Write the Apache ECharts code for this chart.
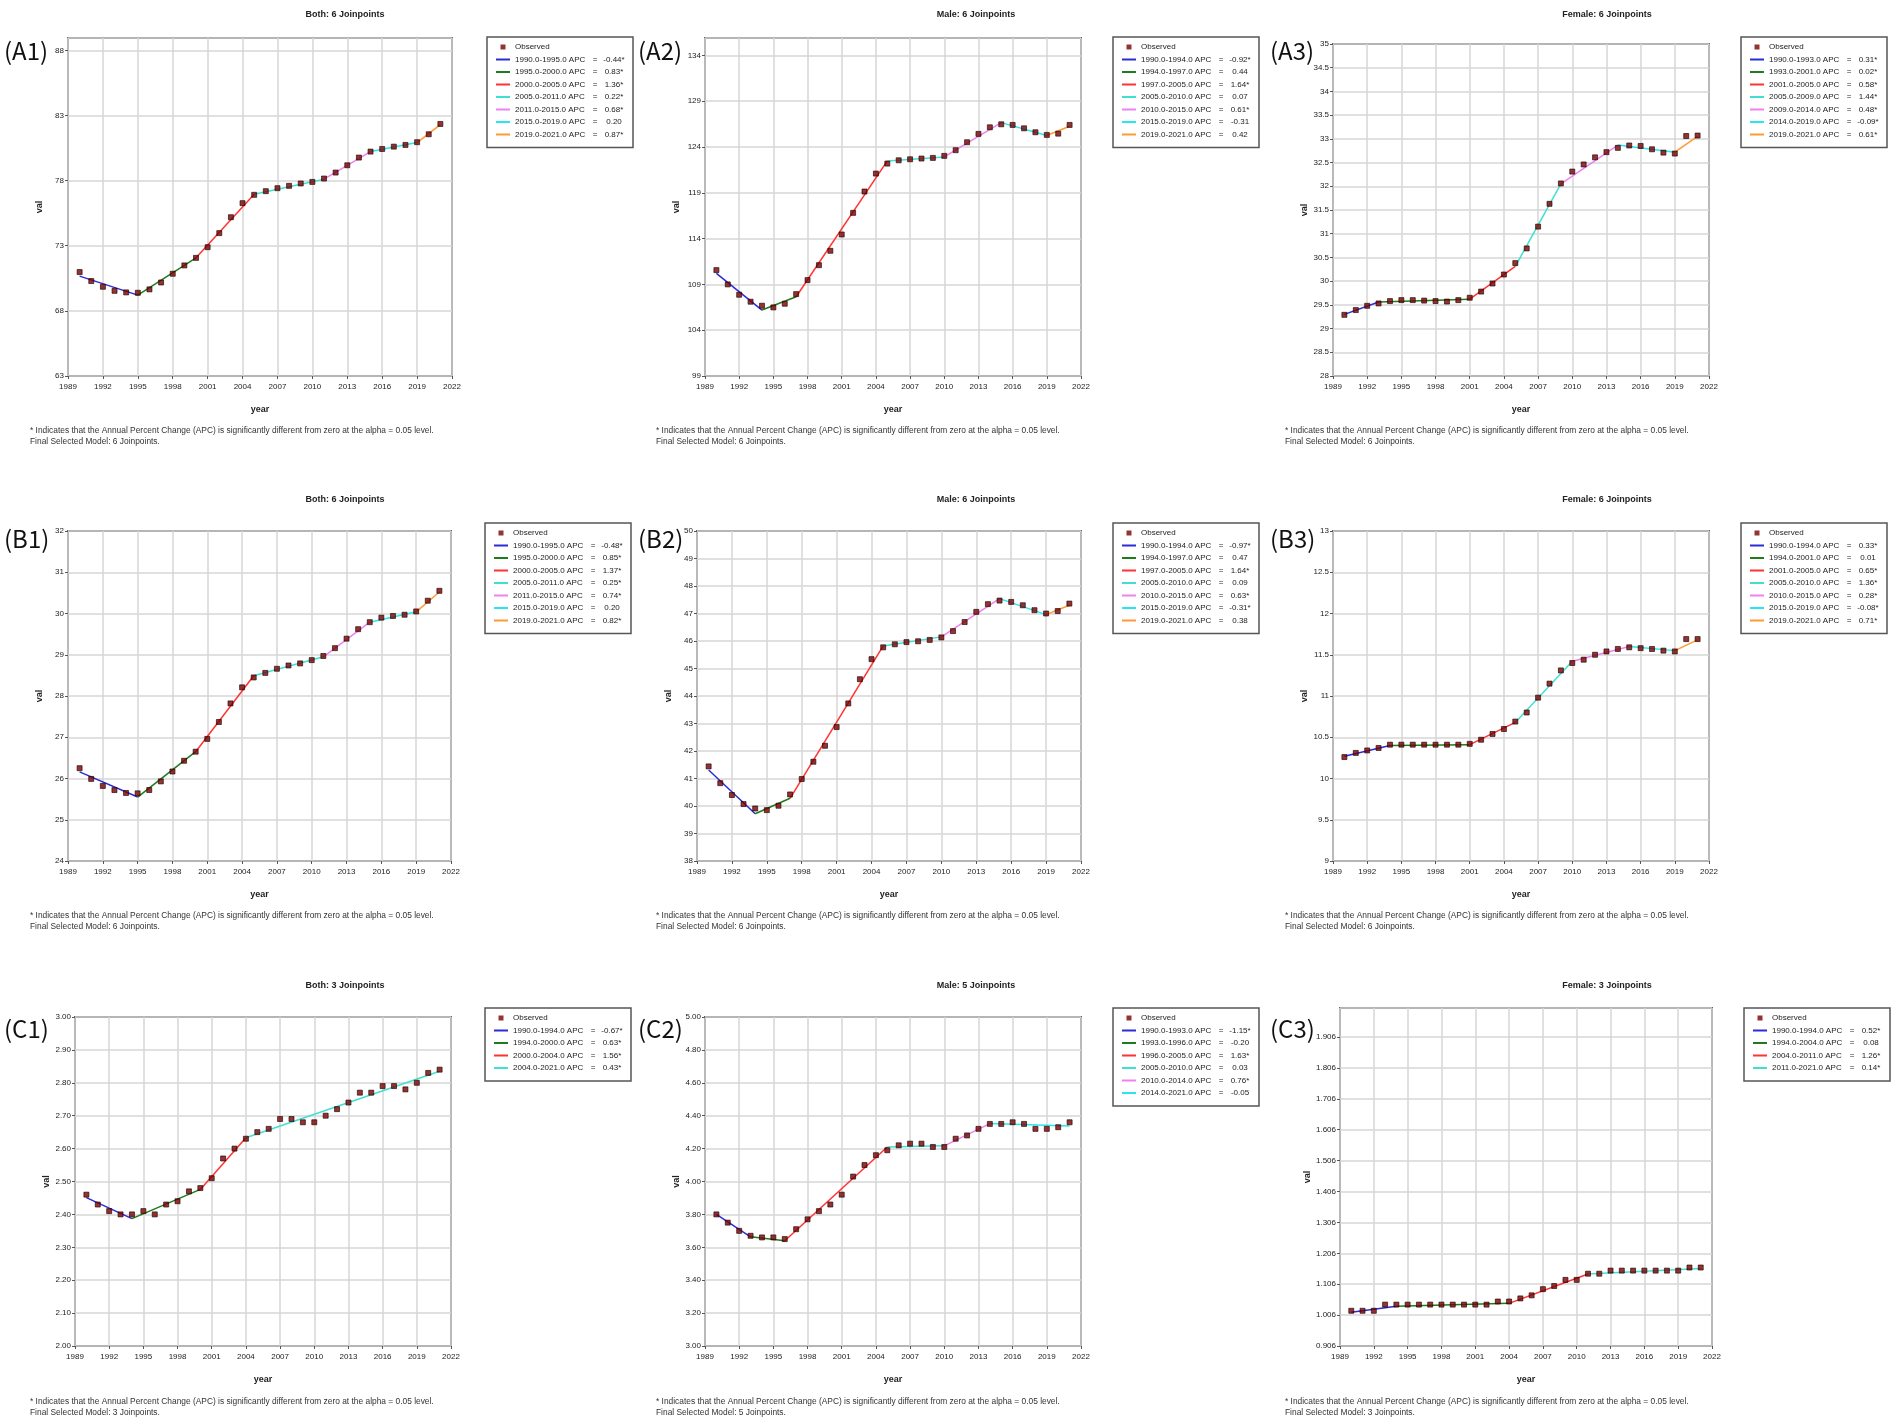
<!DOCTYPE html>
<html>
<head>
<meta charset="utf-8">
<script src="https://cdn.jsdelivr.net/npm/echarts@6/dist/echarts.min.js"></script>
<style>
html, body { margin: 0; padding: 0; background: #fff; }
#main { width: 1902px; height: 1427px; }
</style>
</head>
<body>
<div id="main"></div>
<script>
// observation years
var years = [1990, 1991, 1992, 1993, 1994, 1995, 1996, 1997, 1998, 1999,
             2000, 2001, 2002, 2003, 2004, 2005, 2006, 2007, 2008, 2009,
             2010, 2011, 2012, 2013, 2014, 2015, 2016, 2017, 2018, 2019,
             2020, 2021];

// row A
var obsA1 = [70.98, 70.29, 69.85, 69.54, 69.42, 69.39, 69.65, 70.18, 70.85, 71.49,
             72.07, 72.89, 73.97, 75.19, 76.27, 76.91, 77.19, 77.42, 77.60, 77.78,
             77.90, 78.16, 78.62, 79.18, 79.77, 80.23, 80.43, 80.61, 80.74, 80.95,
             81.56, 82.35];
var joinA1 = [1990, 1995, 2000, 2005, 2011, 2015, 2019, 2021];
var fitA1 = [70.67, 69.21, 72.07, 76.96, 78.11, 80.23, 80.92, 82.30];
var apcA1 = ['-0.44*', '0.83*', '1.36*', '0.22*', '0.68*', '0.20', '0.87*'];

var obsA2 = [110.56, 109.00, 107.87, 107.11, 106.67, 106.49, 106.89, 107.94, 109.47, 111.10,
             112.67, 114.45, 116.81, 119.14, 121.10, 122.19, 122.55, 122.66, 122.74, 122.81,
             123.03, 123.65, 124.52, 125.43, 126.15, 126.48, 126.41, 126.04, 125.61, 125.32,
             125.46, 126.41];
var joinA2 = [1990, 1994, 1997, 2005, 2010, 2015, 2019, 2021];
var fitA2 = [110.20, 106.20, 107.65, 122.48, 122.92, 126.66, 125.25, 126.26];
var apcA2 = ['-0.92*', '0.44', '1.64*', '0.07', '0.61*', '-0.31', '0.42'];

var obsA3 = [29.29, 29.39, 29.48, 29.53, 29.58, 29.60, 29.60, 29.59, 29.58, 29.57,
             29.60, 29.65, 29.78, 29.95, 30.14, 30.38, 30.69, 31.15, 31.63, 32.06,
             32.31, 32.46, 32.61, 32.72, 32.81, 32.86, 32.85, 32.78, 32.71, 32.69,
             33.06, 33.07];
var joinA3 = [1990, 1993, 2001, 2005, 2009, 2014, 2019, 2021];
var fitA3 = [29.30, 29.56, 29.62, 30.31, 32.05, 32.87, 32.72, 33.05];
var apcA3 = ['0.31*', '0.02*', '0.58*', '1.44*', '0.48*', '-0.09*', '0.61*'];

// row B
var obsB1 = [26.25, 25.99, 25.82, 25.72, 25.65, 25.64, 25.72, 25.93, 26.17, 26.43,
             26.65, 26.96, 27.37, 27.82, 28.21, 28.45, 28.56, 28.66, 28.74, 28.79,
             28.87, 28.97, 29.16, 29.39, 29.62, 29.79, 29.90, 29.94, 29.97, 30.05,
             30.31, 30.55];
var joinB1 = [1990, 1995, 2000, 2005, 2011, 2015, 2019, 2021];
var fitB1 = [26.16, 25.55, 26.65, 28.49, 28.95, 29.79, 30.04, 30.52];
var apcB1 = ['-0.48*', '0.85*', '1.37*', '0.25*', '0.74*', '0.20', '0.82*'];

var obsB2 = [41.44, 40.83, 40.40, 40.07, 39.91, 39.85, 40.01, 40.42, 40.98, 41.61,
             42.19, 42.87, 43.73, 44.61, 45.34, 45.77, 45.88, 45.96, 45.99, 46.04,
             46.13, 46.36, 46.69, 47.06, 47.34, 47.47, 47.42, 47.30, 47.12, 47.00,
             47.09, 47.36];
var joinB2 = [1990, 1994, 1997, 2005, 2010, 2015, 2019, 2021];
var fitB2 = [41.31, 39.72, 40.28, 45.82, 46.15, 47.54, 46.96, 47.30];
var apcB2 = ['-0.97*', '0.47', '1.64*', '0.09', '0.63*', '-0.31*', '0.38'];

var obsB3 = [10.26, 10.31, 10.34, 10.37, 10.41, 10.41, 10.41, 10.41, 10.41, 10.41,
             10.41, 10.42, 10.47, 10.54, 10.60, 10.69, 10.80, 10.98, 11.15, 11.31,
             11.40, 11.44, 11.50, 11.54, 11.57, 11.59, 11.58, 11.57, 11.55, 11.54,
             11.69, 11.69];
var joinB3 = [1990, 1994, 2001, 2005, 2010, 2015, 2019, 2021];
var fitB3 = [10.27, 10.40, 10.41, 10.68, 11.42, 11.60, 11.55, 11.68];
var apcB3 = ['0.33*', '0.01', '0.65*', '1.36*', '0.28*', '-0.08*', '0.71*'];

// row C
var obsC1 = [2.46, 2.43, 2.41, 2.40, 2.40, 2.41, 2.40, 2.43, 2.44, 2.47,
             2.48, 2.51, 2.57, 2.60, 2.63, 2.65, 2.66, 2.69, 2.69, 2.68,
             2.68, 2.70, 2.72, 2.74, 2.77, 2.77, 2.79, 2.79, 2.78, 2.80,
             2.83, 2.84];
var joinC1 = [1990, 1994, 2000, 2004, 2021];
var fitC1 = [2.451, 2.387, 2.476, 2.633, 2.835];
var apcC1 = ['-0.67*', '0.63*', '1.56*', '0.43*'];

var obsC2 = [3.80, 3.75, 3.70, 3.67, 3.66, 3.66, 3.65, 3.71, 3.77, 3.82,
             3.86, 3.92, 4.03, 4.10, 4.16, 4.19, 4.22, 4.23, 4.23, 4.21,
             4.21, 4.26, 4.28, 4.32, 4.35, 4.35, 4.36, 4.35, 4.32, 4.32,
             4.33, 4.36];
var joinC2 = [1990, 1993, 1996, 2005, 2010, 2014, 2021];
var fitC2 = [3.80, 3.664, 3.64, 4.21, 4.217, 4.352, 4.337];
var apcC2 = ['-1.15*', '-0.20', '1.63*', '0.03', '0.76*', '-0.05'];

var obsC3 = [1.02, 1.02, 1.02, 1.04, 1.04, 1.04, 1.04, 1.04, 1.04, 1.04,
             1.04, 1.04, 1.04, 1.05, 1.05, 1.06, 1.07, 1.09, 1.10, 1.12,
             1.12, 1.14, 1.14, 1.15, 1.15, 1.15, 1.15, 1.15, 1.15, 1.15,
             1.16, 1.16];
var joinC3 = [1990, 1994, 2004, 2011, 2021];
var fitC3 = [1.015, 1.035, 1.044, 1.139, 1.157];
var apcC3 = ['0.52*', '0.08', '1.26*', '0.14*'];

var segColors = ['#2b2bd8', '#1e7b1e', '#ff3333', '#40e0d0', '#ee82ee', '#27e6ee', '#ff9a33'];
var FONT = 'Liberation Sans, Arial, sans-serif';
var NOTE1 = '* Indicates that the Annual Percent Change (APC) is significantly different from zero at the alpha = 0.05 level.';
// legend icons: box forced to 14x6 so the glyph keeps its size
var ICON_OBS = 'path://M0,0M14,6M4.5,0.5H9.5V5.5H4.5Z';
var ICON_SEG = 'path://M0,0M14,6M0,2H14V4H0Z';

var rows = [
    { headY: 15, tagY: 51, lgY: 37, bottom: 376, noteY: 431 },
    { headY: 500, tagY: 539, lgY: 523, bottom: 861, noteY: 916 },
    { headY: 986, tagY: 1029, lgY: 1008, bottom: 1346, noteY: 1402 }
];
var cols = [
    { headX: 345, tagX: 4, noteX: 30 },
    { headX: 976, tagX: 638, noteX: 656 },
    { headX: 1607, tagX: 1270, noteX: 1285 }
];

var panels = [
    { r: 0, c: 0, tag: '(A1)', head: 'Both: 6 Joinpoints', model: '6 Joinpoints', obs: obsA1, join: joinA1, fit: fitA1, apc: apcA1,
      yMin: 63, yMax: 88.95, yStep: 5, dec: 0, hideMax: true, left: 68, right: 452, top: 38, lgX: 487 },
    { r: 0, c: 1, tag: '(A2)', head: 'Male: 6 Joinpoints', model: '6 Joinpoints', obs: obsA2, join: joinA2, fit: fitA2, apc: apcA2,
      yMin: 99, yMax: 135.9, yStep: 5, dec: 0, hideMax: true, left: 705, right: 1081, top: 38, lgX: 1113 },
    { r: 0, c: 2, tag: '(A3)', head: 'Female: 6 Joinpoints', model: '6 Joinpoints', obs: obsA3, join: joinA3, fit: fitA3, apc: apcA3,
      yMin: 28, yMax: 35, yStep: 0.5, dec: -1, hideMax: false, left: 1333, right: 1709, top: 44, lgX: 1741 },
    { r: 1, c: 0, tag: '(B1)', head: 'Both: 6 Joinpoints', model: '6 Joinpoints', obs: obsB1, join: joinB1, fit: fitB1, apc: apcB1,
      yMin: 24, yMax: 32, yStep: 1, dec: 0, hideMax: false, left: 68, right: 451, top: 531, lgX: 485 },
    { r: 1, c: 1, tag: '(B2)', head: 'Male: 6 Joinpoints', model: '6 Joinpoints', obs: obsB2, join: joinB2, fit: fitB2, apc: apcB2,
      yMin: 38, yMax: 50, yStep: 1, dec: 0, hideMax: false, left: 697, right: 1081, top: 531, lgX: 1113 },
    { r: 1, c: 2, tag: '(B3)', head: 'Female: 6 Joinpoints', model: '6 Joinpoints', obs: obsB3, join: joinB3, fit: fitB3, apc: apcB3,
      yMin: 9, yMax: 13, yStep: 0.5, dec: -1, hideMax: false, left: 1333, right: 1709, top: 531, lgX: 1741 },
    { r: 2, c: 0, tag: '(C1)', head: 'Both: 3 Joinpoints', model: '3 Joinpoints', obs: obsC1, join: joinC1, fit: fitC1, apc: apcC1,
      yMin: 2, yMax: 3, yStep: 0.1, dec: 2, hideMax: false, left: 75, right: 451, top: 1017, lgX: 485 },
    { r: 2, c: 1, tag: '(C2)', head: 'Male: 5 Joinpoints', model: '5 Joinpoints', obs: obsC2, join: joinC2, fit: fitC2, apc: apcC2,
      yMin: 3, yMax: 5, yStep: 0.2, dec: 2, hideMax: false, left: 705, right: 1081, top: 1017, lgX: 1113 },
    { r: 2, c: 2, tag: '(C3)', head: 'Female: 3 Joinpoints', model: '3 Joinpoints', obs: obsC3, join: joinC3, fit: fitC3, apc: apcC3,
      yMin: 0.906, yMax: 2.0, yStep: 0.1, dec: 3, hideMax: true, left: 1340, right: 1712, top: 1008, lgX: 1744 }
];

var grids = [], xAxes = [], yAxes = [], series = [], legends = [], graphics = [];

panels.forEach(function (p, i) {
    var row = rows[p.r], col = cols[p.c];
    grids.push({
        left: p.left, top: p.top, width: p.right - p.left, height: row.bottom - p.top,
        show: true, borderColor: '#555', borderWidth: 1.8, backgroundColor: '#fff',
        containLabel: false, outerBoundsMode: 'none'
    });
    xAxes.push({
        gridIndex: i, type: 'value', min: 1989, max: 2022, interval: 3,
        name: 'year', nameLocation: 'middle', nameGap: 29,
        nameTextStyle: { fontFamily: FONT, fontSize: 9, fontWeight: 'bold', color: '#222' },
        axisLine: { show: false },
        axisTick: { show: true, length: 3, lineStyle: { color: '#555' } },
        axisLabel: { fontFamily: FONT, fontSize: 8, color: '#222', margin: 7,
                     formatter: function (v) { return String(v); } },
        splitLine: { show: true, lineStyle: { color: '#d6d6d6', width: 1.5 } }
    });
    yAxes.push({
        gridIndex: i, type: 'value', min: p.yMin, max: p.yMax, interval: p.yStep,
        name: 'val', nameLocation: 'middle', nameGap: 24, nameRotate: 90,
        nameTextStyle: { fontFamily: FONT, fontSize: 9, fontWeight: 'bold', color: '#222' },
        axisLine: { show: false },
        axisTick: { show: true, length: 3, lineStyle: { color: '#555' } },
        axisLabel: {
            fontFamily: FONT, fontSize: 8, color: '#222', margin: 4, showMaxLabel: !p.hideMax,
            formatter: (function (dec) {
                return function (v) { return dec < 0 ? String(+v.toFixed(2)) : v.toFixed(dec); };
            })(p.dec)
        },
        splitLine: { show: true, lineStyle: { color: '#d6d6d6', width: 1.5 } }
    });

    var names = [{ name: 'Observed', icon: ICON_OBS }];
    for (var s = 0; s < p.apc.length; s++) {
        var nm = p.join[s].toFixed(1) + '-' + p.join[s + 1].toFixed(1) + ' APC = ' + p.apc[s];
        names.push({ name: nm, icon: ICON_SEG });
        series.push({
            type: 'line', name: nm, xAxisIndex: i, yAxisIndex: i,
            data: [[p.join[s], p.fit[s]], [p.join[s + 1], p.fit[s + 1]]],
            symbol: 'none', z: 2, silent: true,
            itemStyle: { color: segColors[s] },
            lineStyle: { color: segColors[s], width: 1.5 }
        });
    }
    series.push({
        type: 'scatter', name: 'Observed', xAxisIndex: i, yAxisIndex: i,
        data: years.map(function (y, k) { return [y, p.obs[k]]; }),
        symbol: 'rect', symbolSize: 5, z: 3, silent: true,
        itemStyle: { color: '#7a0000', borderColor: '#1a0000', borderWidth: 0.8 }
    });

    legends.push({
        data: names, orient: 'vertical', left: p.lgX, top: row.lgY,
        itemWidth: 14, itemHeight: 6, itemGap: 2.5,
        padding: [5, 6, 8, 9], borderColor: '#555', borderWidth: 1.5, backgroundColor: '#fff',
        selectedMode: false,
        itemStyle: { borderWidth: 0 },
        textStyle: {
            fontFamily: FONT, fontSize: 8, color: '#222', lineHeight: 10,
            rich: {
                o: { fontFamily: FONT, fontSize: 8, color: '#222' },
                a: { fontFamily: FONT, fontSize: 8, color: '#222', width: 74 },
                b: { fontFamily: FONT, fontSize: 8, color: '#222', width: 12, align: 'center' },
                c: { fontFamily: FONT, fontSize: 8, color: '#222', width: 26 }
            }
        },
        formatter: function (name) {
            var parts = name.split(' APC = ');
            if (parts.length < 2) return '{o|' + name + '}';
            return '{a|' + parts[0] + ' APC}{b|=}{c|' + parts[1] + '}';
        }
    });

    graphics.push({
        type: 'text', x: col.headX, y: row.headY, silent: true,
        style: { text: p.head, fontFamily: FONT, fontSize: 9, fontWeight: 'bold', fill: '#222', align: 'center', verticalAlign: 'middle' }
    });
    graphics.push({
        type: 'text', x: col.tagX, y: row.tagY, silent: true,
        style: { text: p.tag, fontFamily: 'Noto Sans CJK JP', fontSize: 24, fill: '#111', align: 'left', verticalAlign: 'middle' }
    });
    graphics.push({
        type: 'text', x: col.noteX, y: row.noteY, silent: true,
        style: { text: NOTE1, fontFamily: FONT, fontSize: 8.4, fill: '#333', align: 'left', verticalAlign: 'middle' }
    });
    graphics.push({
        type: 'text', x: col.noteX, y: row.noteY + 11, silent: true,
        style: { text: 'Final Selected Model: ' + p.model + '.', fontFamily: FONT, fontSize: 8.4, fill: '#333', align: 'left', verticalAlign: 'middle' }
    });
});

var chart = echarts.init(document.getElementById('main'));
chart.setOption({
    animation: false,
    backgroundColor: '#fff',
    grid: grids,
    xAxis: xAxes,
    yAxis: yAxes,
    legend: legends,
    series: series,
    graphic: graphics
});
</script>
</body>
</html>
